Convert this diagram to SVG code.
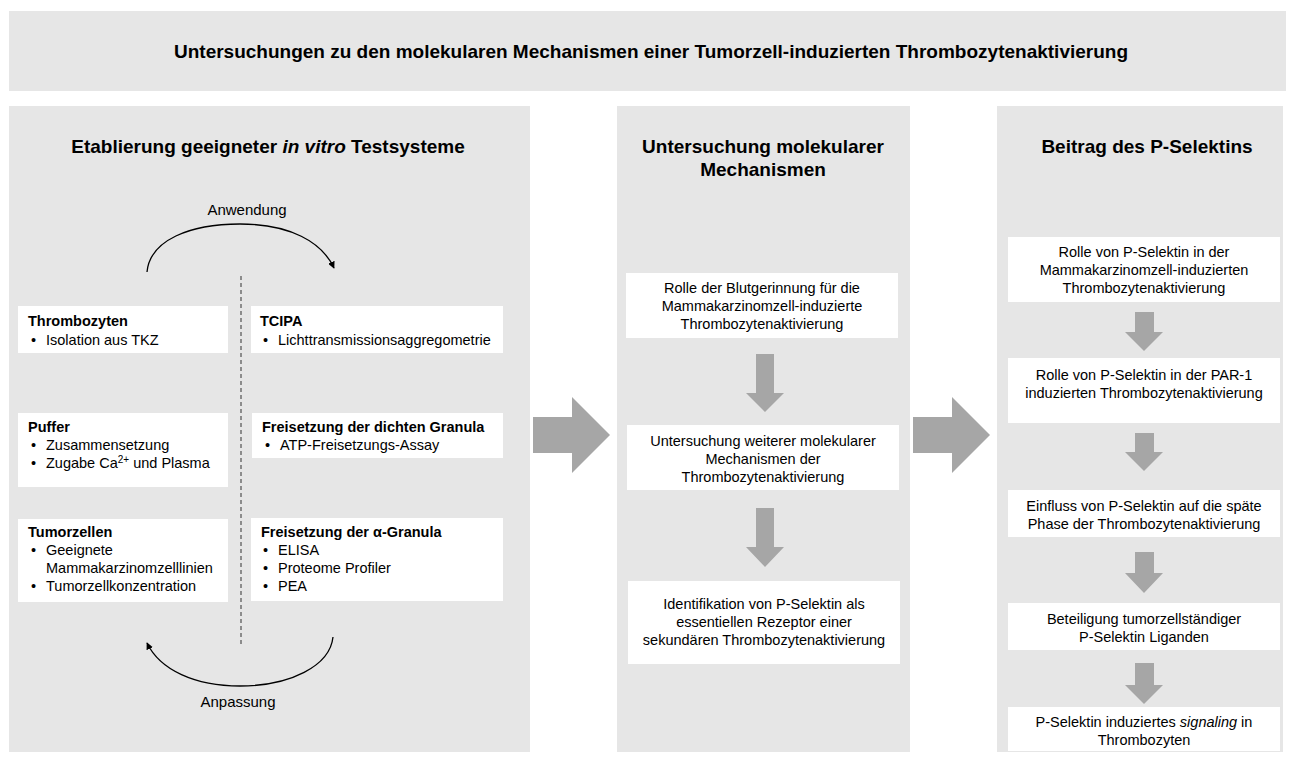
<svg xmlns="http://www.w3.org/2000/svg" width="1295" height="758" viewBox="0 0 1295 758">
<defs>
<style>
.panel{fill:#e6e6e6}
.box{fill:#ffffff}
.garrow{fill:#a6a6a6}
text{font-family:"Liberation Sans",Arial,sans-serif;fill:#000}
.h1{font-size:19px;font-weight:bold;text-anchor:middle}
.h2{font-size:19px;font-weight:bold;text-anchor:middle}
.bt{font-size:14.5px;font-weight:bold}
.t{font-size:14.5px}
.c{font-size:14.5px;text-anchor:middle}
.lbl{font-size:15px;text-anchor:middle}
.arc{fill:none;stroke:#000;stroke-width:1.3}
</style>
<marker id="ah" viewBox="0 0 10 10" refX="9" refY="5" markerWidth="7" markerHeight="7" markerUnits="userSpaceOnUse" orient="auto">
<path d="M0,0 L10,5 L0,10 z" fill="#000"/>
</marker>
</defs>
<rect x="0" y="0" width="1295" height="758" fill="#ffffff"/>

<g id="banner">
<rect class="panel" x="9" y="11" width="1277" height="80"/>
<text class="h1" x="651" y="58">Untersuchungen zu den molekularen Mechanismen einer Tumorzell-induzierten Thrombozytenaktivierung</text>
</g>

<g id="panel-left">
<rect class="panel" x="9" y="106" width="521" height="646"/>
<text class="h2" x="268" y="153">Etablierung geeigneter <tspan font-style="italic">in vitro</tspan> Testsysteme</text>
</g>
<g id="panel-middle">
<rect class="panel" x="617" y="106" width="293" height="646"/>
<text class="h2" x="763" y="153">Untersuchung molekularer</text>
<text class="h2" x="763" y="176">Mechanismen</text>
</g>
<g id="panel-right">
<rect class="panel" x="997" y="106" width="286" height="646"/>
<text class="h2" x="1147" y="153">Beitrag des P-Selektins</text>
</g>

<g id="connectors">
<path class="arc" d="M147,272 C150,240 190,224 240,224 C290,224 322,242 334,268" marker-end="url(#ah)"/>
<path class="arc" d="M333,637 C330,666 290,686 240,686 C195,686 160,670 147,643" marker-end="url(#ah)"/>
<line x1="241" y1="276" x2="241" y2="646" stroke="#333" stroke-width="1" stroke-dasharray="4,3"/>
<polygon class="garrow" points="533,417 572,417 572,397 610,435 572,473 572,453 533,453"/>
<polygon class="garrow" points="913,417 952,417 952,397 990,435 952,473 952,453 913,453"/>
<polygon class="garrow" points="756,354 774,354 774,393 784,393 765,412 746,393 756,393"/>
<polygon class="garrow" points="756,508 774,508 774,547 784,547 765,567 746,547 756,547"/>
<polygon class="garrow" points="1135,312 1154,312 1154,332 1163,332 1144,351 1125,332 1135,332"/>
<polygon class="garrow" points="1135,433 1154,433 1154,452 1163,452 1144,471 1125,452 1135,452"/>
<polygon class="garrow" points="1135,552 1154,552 1154,573 1163,573 1144,593 1125,573 1135,573"/>
<polygon class="garrow" points="1135,663 1154,663 1154,685 1163,685 1144,704 1125,685 1135,685"/>
</g>

<g id="label-anwendung"><text class="lbl" x="247" y="215">Anwendung</text></g>
<g id="label-anpassung"><text class="lbl" x="238" y="707">Anpassung</text></g>

<g id="n-thrombozyten">
<rect class="box" x="18" y="306" width="210" height="47"/>
<text class="bt" x="28" y="326">Thrombozyten</text>
<text class="t" x="31" y="345">•</text><text class="t" x="46" y="345">Isolation aus TKZ</text>
</g>
<g id="n-tcipa">
<rect class="box" x="251" y="306" width="252" height="47"/>
<text class="bt" x="260" y="326">TCIPA</text>
<text class="t" x="263" y="345">•</text><text class="t" x="278" y="345">Lichttransmissionsaggregometrie</text>
</g>
<g id="n-puffer">
<rect class="box" x="18" y="413" width="210" height="74"/>
<text class="bt" x="28" y="432">Puffer</text>
<text class="t" x="31" y="450">•</text><text class="t" x="46" y="450">Zusammensetzung</text>
<text class="t" x="31" y="468">•</text><text class="t" x="46" y="468">Zugabe Ca<tspan font-size="10px" dy="-5">2+</tspan><tspan dy="5"> und Plasma</tspan></text>
</g>
<g id="n-dichte">
<rect class="box" x="252" y="413" width="251" height="45"/>
<text class="bt" x="262" y="432">Freisetzung der dichten Granula</text>
<text class="t" x="265" y="450">•</text><text class="t" x="280" y="450">ATP-Freisetzungs-Assay</text>
</g>
<g id="n-tumorzellen">
<rect class="box" x="18" y="519" width="210" height="83"/>
<text class="bt" x="28" y="537">Tumorzellen</text>
<text class="t" x="31" y="555">•</text><text class="t" x="46" y="555">Geeignete</text>
<text class="t" x="46" y="573">Mammakarzinomzelllinien</text>
<text class="t" x="31" y="591">•</text><text class="t" x="46" y="591">Tumorzellkonzentration</text>
</g>
<g id="n-alpha">
<rect class="box" x="251" y="518" width="252" height="83"/>
<text class="bt" x="261" y="537">Freisetzung der α-Granula</text>
<text class="t" x="263" y="555">•</text><text class="t" x="278" y="555">ELISA</text>
<text class="t" x="263" y="573">•</text><text class="t" x="278" y="573">Proteome Profiler</text>
<text class="t" x="263" y="591">•</text><text class="t" x="278" y="591">PEA</text>
</g>

<g id="m1">
<rect class="box" x="626" y="273" width="272" height="65"/>
<text class="c" x="762" y="293">Rolle der Blutgerinnung für die</text>
<text class="c" x="762" y="311">Mammakarzinomzell-induzierte</text>
<text class="c" x="762" y="329">Thrombozytenaktivierung</text>
</g>
<g id="m2">
<rect class="box" x="627" y="425" width="272" height="65"/>
<text class="c" x="763" y="446">Untersuchung weiterer molekularer</text>
<text class="c" x="763" y="464">Mechanismen der</text>
<text class="c" x="763" y="482">Thrombozytenaktivierung</text>
</g>
<g id="m3">
<rect class="box" x="628" y="581" width="272" height="83"/>
<text class="c" x="764" y="609">Identifikation von P-Selektin als</text>
<text class="c" x="764" y="627">essentiellen Rezeptor einer</text>
<text class="c" x="764" y="645">sekundären Thrombozytenaktivierung</text>
</g>

<g id="r1">
<rect class="box" x="1008" y="237" width="272" height="65"/>
<text class="c" x="1144" y="257">Rolle von P-Selektin in der</text>
<text class="c" x="1144" y="275">Mammakarzinomzell-induzierten</text>
<text class="c" x="1144" y="293">Thrombozytenaktivierung</text>
</g>
<g id="r2">
<rect class="box" x="1008" y="358" width="272" height="65"/>
<text class="c" x="1144" y="380">Rolle von P-Selektin in der PAR-1</text>
<text class="c" x="1144" y="398">induzierten Thrombozytenaktivierung</text>
</g>
<g id="r3">
<rect class="box" x="1008" y="490" width="272" height="47"/>
<text class="c" x="1144" y="511">Einfluss von P-Selektin auf die späte</text>
<text class="c" x="1144" y="529">Phase der Thrombozytenaktivierung</text>
</g>
<g id="r4">
<rect class="box" x="1008" y="603" width="272" height="47"/>
<text class="c" x="1144" y="624">Beteiligung tumorzellständiger</text>
<text class="c" x="1144" y="642">P-Selektin Liganden</text>
</g>
<g id="r5">
<rect class="box" x="1008" y="707" width="272" height="44"/>
<text class="c" x="1144" y="727">P-Selektin induziertes <tspan font-style="italic">signaling</tspan> in</text>
<text class="c" x="1144" y="745">Thrombozyten</text>
</g>
</svg>
